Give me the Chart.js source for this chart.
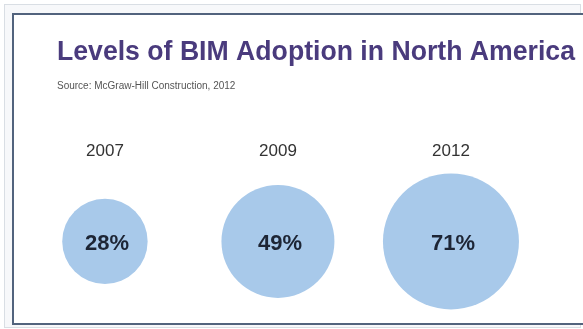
<!DOCTYPE html>
<html>
<head>
<meta charset="utf-8">
<script src="https://cdn.jsdelivr.net/npm/chart.js@4.4.1/dist/chart.umd.min.js"></script>
<style>
  html, body { margin: 0; padding: 0; background: #ffffff; }
  #wrap { position: relative; width: 583px; height: 329px; overflow: hidden; }
  #outer { position: absolute; left: 4px; top: 4px; width: 575px; height: 322px; border: 1px solid #d9dee4; background: #f7f8fa; }
  #inner { position: absolute; left: 12px; top: 13px; width: 580px; height: 308px; border: 2px solid #52637d; background: #ffffff; }
  canvas { position: absolute; left: 0; top: 0; }
</style>
</head>
<body>
<div id="wrap">
  <div id="outer"></div>
  <div id="inner"></div>
  <canvas id="BubbleChart" width="583" height="329"></canvas>
</div>
<script>
// datos del gráfico
var anios = ['2007', '2009', '2012'];
var adopcion = [28, 49, 71];
var titulo = 'Levels of BIM Adoption in North America';
var fuente = 'Source: McGraw-Hill Construction, 2012';

document.addEventListener('DOMContentLoaded', function() {
    var radioMax = 68;
    var maxValor = Math.max.apply(null, adopcion);

    // etiquetas de porcentaje dentro de cada burbuja
    var etiquetasPlugin = {
        id: 'etiquetas',
        afterDatasetsDraw: function(chart) {
            var ctx = chart.ctx;
            var meta = chart.getDatasetMeta(0);
            ctx.save();
            ctx.font = 'bold 22px "Liberation Sans", Arial, sans-serif';
            ctx.fillStyle = '#1d2535';
            ctx.textAlign = 'center';
            ctx.textBaseline = 'middle';
            meta.data.forEach(function(el, i) {
                ctx.fillText(adopcion[i] + '%', el.x + 2, el.y + 3);
            });
            ctx.restore();
        }
    };

    var ctx = document.getElementById('BubbleChart').getContext('2d');
    var BubbleChart = new Chart(ctx, {
        type: 'bubble',
        data: {
            datasets: [{
                data: adopcion.map(function(v, i) {
                    return { x: i, y: 0, r: radioMax * Math.sqrt(v / maxValor) };
                }),
                backgroundColor: '#a8c9ea',
                borderWidth: 0,
                hoverBorderWidth: 0,
                clip: false
            }]
        },
        options: {
            responsive: false,
            animation: false,
            events: [],
            layout: { autoPadding: false, padding: { left: 57, right: 8, top: 0, bottom: 11 } },
            scales: {
                x: {
                    type: 'linear',
                    position: 'top',
                    min: -0.277,
                    max: 2.717,
                    afterBuildTicks: function(scale) {
                        scale.ticks = anios.map(function(a, i) { return { value: i }; });
                    },
                    ticks: {
                        padding: 3,
                        color: '#333333',
                        font: { family: '"Liberation Sans Narrow", "Arial Narrow", "Liberation Sans", sans-serif', size: 17 },
                        callback: function(v) { return anios[v]; }
                    },
                    grid: { display: false, drawTicks: false },
                    border: { display: false }
                },
                y: {
                    display: false,
                    min: -1,
                    max: 1
                }
            },
            plugins: {
                legend: { display: false },
                tooltip: { enabled: false },
                title: {
                    display: true,
                    text: titulo,
                    align: 'start',
                    color: '#4a3b7d',
                    font: { family: '"Liberation Sans", Arial, sans-serif', size: 27, weight: 'bold' },
                    padding: { top: 36, bottom: 12 }
                },
                subtitle: {
                    display: true,
                    text: fuente,
                    align: 'start',
                    color: '#555555',
                    font: { family: '"Liberation Sans", Arial, sans-serif', size: 10 },
                    padding: { top: 0, bottom: 46 }
                }
            }
        },
        plugins: [etiquetasPlugin]
    });
});
</script>
</body>
</html>
